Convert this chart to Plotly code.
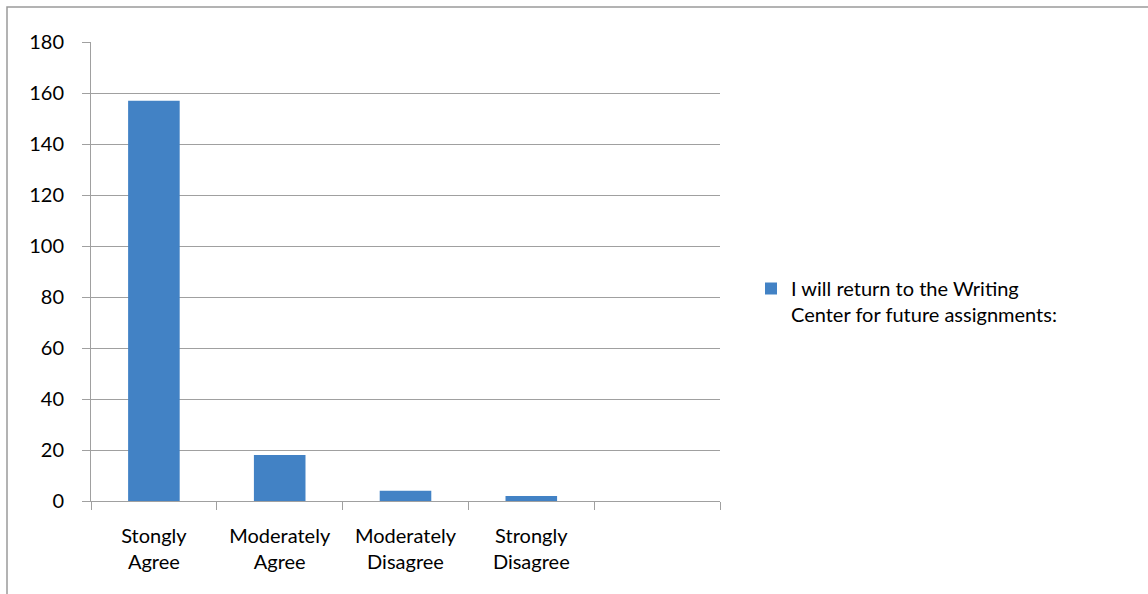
import plotly.graph_objects as go

categories = ["Stongly<br>Agree", "Moderately<br>Agree", "Moderately<br>Disagree", "Strongly<br>Disagree", " "]
values = [157, 18, 4, 2, None]
series_name = "I will return to the Writing<br>Center for future assignments:"
y_ticks = [0, 20, 40, 60, 80, 100, 120, 140, 160, 180]

W, H = 1148, 594
# target plot-area box in screen pixels
PX0, PX1, PY0, PY1 = 91, 720, 42, 501
L = PX0
T = PY0
R = W - PX1
B = H - PY1

fig = go.Figure()
fig.add_trace(go.Bar(
    x=categories, y=values, name=series_name,
    marker=dict(color="#4282C5", line=dict(width=0)),
    width=0.41, showlegend=True,
))

font = "Lato, 'Open Sans', sans-serif"
pw = PX1 - PX0
ph = PY1 - PY0

def sx(px):
    return (px - PX0) / pw

def sy(py):
    return (PY1 - py) / ph

fig.update_layout(
    width=W, height=H,
    margin=dict(l=L, r=R, t=T, b=B, pad=0),
    paper_bgcolor="white", plot_bgcolor="white",
    font=dict(family=font, size=20, color="#000000"),
    showlegend=True,
    legend=dict(x=sx(751), y=sy(269), xanchor="left", yanchor="top", valign="top",
                font=dict(size=20, color="#000000"), itemwidth=30,
                bgcolor="rgba(0,0,0,0)", traceorder="normal"),
    bargap=0.59,
    xaxis=dict(
        type="category", showgrid=False, showline=True, linecolor="#A0A0A0", linewidth=1,
        ticks="outside", ticklen=8, tickcolor="#A0A0A0", tickson="boundaries",
        tickfont=dict(size=20, color="#000000"), range=[-0.5, 4.5],
        ticklabelstandoff=17, fixedrange=True,
    ),
    yaxis=dict(
        range=[0, 180], tickvals=y_ticks, showgrid=True, gridcolor="#A0A0A0", gridwidth=1,
        showline=True, linecolor="#A0A0A0", linewidth=1, ticks="outside", ticklen=8,
        tickcolor="#A0A0A0", tickfont=dict(size=20, color="#000000"), zeroline=False,
        ticklabelstandoff=14,
    ),
)

# outer chart border (top and left edges visible; extends beyond the window)
fig.add_shape(type="rect", xref="paper", yref="paper",
              x0=sx(7), x1=sx(W + 30), y0=sy(H + 30), y1=sy(7),
              line=dict(color="#9A9A9A", width=1.5), fillcolor="rgba(0,0,0,0)", layer="below")

fig.write_html("out.html",
               config={"displayModeBar": False},
               post_script="document.body.style.margin='0';document.body.style.padding='0';")
